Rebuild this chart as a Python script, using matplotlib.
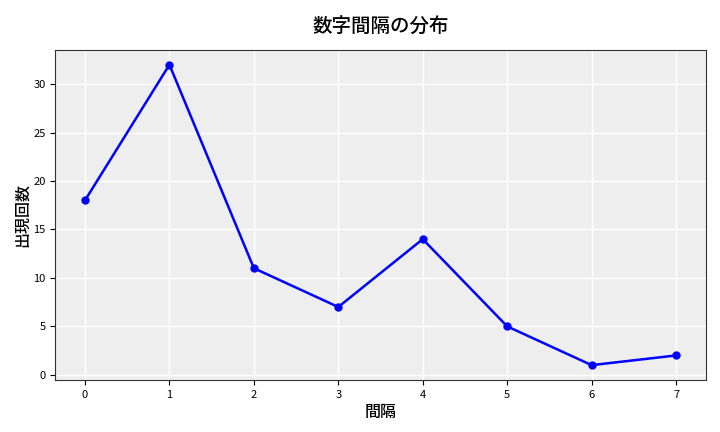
import matplotlib
matplotlib.use("Agg")
import matplotlib.pyplot as plt

plt.rcParams['font.family'] = ['Noto Sans CJK JP', 'DejaVu Sans']

# 間隔ごとの出現回数
intervals = [0, 1, 2, 3, 4, 5, 6, 7]
counts = [18, 32, 11, 7, 14, 5, 1, 2]

fig, ax = plt.subplots(figsize=(7.2, 4.32), dpi=100)
ax.set_facecolor('#eeeeee')
ax.grid(True, color='white', linewidth=1)
ax.set_axisbelow(True)

ax.plot(intervals, counts, color='blue', marker='o', markersize=5, linewidth=1.8)

ax.set_title("数字間隔の分布", fontsize=14, fontweight='medium', pad=12)
ax.set_xlabel("間隔", fontsize=11.5, fontweight='medium', labelpad=3)
ax.set_ylabel("出現回数", fontsize=11.5, fontweight='medium', labelpad=2)
ax.tick_params(labelsize=8)
ax.set_xticks(intervals)

for s in ax.spines.values():
    s.set_color('#333333')

fig.subplots_adjust(left=0.077, right=0.98, top=0.885, bottom=0.12)
fig.savefig("out.png", dpi=100)
